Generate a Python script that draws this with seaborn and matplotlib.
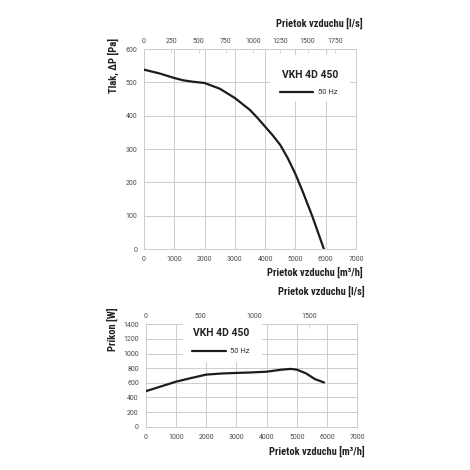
import matplotlib
matplotlib.use("Agg")
import matplotlib.pyplot as plt
import seaborn as sns
import pandas as pd
from matplotlib.patches import Rectangle

# tlak (Pa) vs prietok (m3/h)
tlak_prietok = [0, 500, 1000, 1300, 1600, 2000, 2500, 3000, 3500, 3750, 4000, 4250, 4500, 4750, 5000, 5250, 5550, 5940]
tlak_pa = [538, 527, 513, 506, 502, 498, 481, 453, 417, 393, 367, 341, 312, 272, 225, 170, 100, 0]

# prikon (W) vs prietok (m3/h)
prikon_prietok = [0, 500, 1000, 1500, 2000, 2500, 3000, 3500, 4000, 4500, 4800, 5000, 5300, 5600, 5900]
prikon_w = [485, 550, 615, 665, 712, 727, 735, 742, 752, 780, 790, 780, 730, 650, 605]

x_ticks = [0, 1000, 2000, 3000, 4000, 5000, 6000, 7000]
ls_ticks_top = [0, 250, 500, 750, 1000, 1250, 1500, 1750]
ls_ticks_bottom = [0, 500, 1000, 1500]
tlak_ticks = [0, 100, 200, 300, 400, 500, 600]
prikon_ticks = [0, 200, 400, 600, 800, 1000, 1200, 1400]

model = "VKH 4D 450"
freq = "50 Hz"

df_tlak = pd.DataFrame({"prietok": tlak_prietok, "hodnota": tlak_pa})
df_prikon = pd.DataFrame({"prietok": prikon_prietok, "hodnota": prikon_w})

sns.set_theme(style="whitegrid")
plt.rcParams["font.family"] = ["Roboto", "DejaVu Sans"]

title_font = ["Liberation Sans Narrow", "Roboto Condensed", "Roboto", "DejaVu Sans"]
grid_c = "#cccccc"
tick_c = "#4a4a4a"
line_c = "#1c1c1c"

fig = plt.figure(figsize=(4.7, 4.7), dpi=100)
W = H = 470.0


def px_axes(left, top, right, bottom):
    return fig.add_axes([left / W, 1 - bottom / H, (right - left) / W, (bottom - top) / H])


def styluj(ax, yticks, ls_ticks):
    ax.set_xlim(0, 7000)
    ax.set_ylim(yticks[0], yticks[-1])
    ax.set_xticks(x_ticks)
    ax.set_yticks(yticks)
    ax.grid(True, color=grid_c, linewidth=0.7)
    for s in ax.spines.values():
        s.set_color(grid_c)
        s.set_linewidth(0.7)
    ax.tick_params(axis="both", labelsize=5, colors=grid_c, labelcolor=tick_c,
                   length=2.5, width=0.6, direction="out", pad=2.5)
    ax.set_xlabel("")
    ax.set_ylabel("")
    sec = ax.secondary_xaxis("top", functions=(lambda v: v / 3.6, lambda v: v * 3.6))
    sec.set_xticks(ls_ticks)
    sec.tick_params(labelsize=5, colors=grid_c, labelcolor=tick_c,
                    length=3, width=0.6, direction="in", pad=3)
    sec.spines["top"].set_visible(False)
    return sec


# horny graf - tlak
ax1 = px_axes(144, 49, 356, 249)
sns.lineplot(data=df_tlak, x="prietok", y="hodnota", ax=ax1, color=line_c, linewidth=1.6, zorder=5)
styluj(ax1, tlak_ticks, ls_ticks_top)
ax1.add_patch(Rectangle((0.594, 0.74), 0.378, 0.23, transform=ax1.transAxes,
                        facecolor="white", edgecolor="none", zorder=3))
ax1.text(0.783, 0.87, model, transform=ax1.transAxes, ha="center", va="center",
         fontsize=7.5, fontweight="bold", color="#222222", zorder=6)
ax1.plot([0.642, 0.797], [0.787, 0.787], transform=ax1.transAxes, color=line_c, linewidth=1.6, zorder=6)
ax1.text(0.821, 0.787, freq, transform=ax1.transAxes, ha="left", va="center",
         fontsize=5.5, color="#333333", zorder=6)

# dolny graf - prikon
ax2 = px_axes(145.7, 324.3, 357.3, 426.7)
sns.lineplot(data=df_prikon, x="prietok", y="hodnota", ax=ax2, color=line_c, linewidth=1.6, zorder=5)
styluj(ax2, prikon_ticks, ls_ticks_bottom)
ax2.add_patch(Rectangle((0.176, 0.632), 0.374, 0.368, transform=ax2.transAxes,
                        facecolor="white", edgecolor="none", zorder=3))
ax2.text(0.359, 0.912, model, transform=ax2.transAxes, ha="center", va="center",
         fontsize=7.5, fontweight="bold", color="#222222", zorder=6)
ax2.plot([0.217, 0.378], [0.739, 0.739], transform=ax2.transAxes, color=line_c, linewidth=1.6, zorder=6)
ax2.text(0.398, 0.739, freq, transform=ax2.transAxes, ha="left", va="center",
         fontsize=5.5, color="#333333", zorder=6)

# popisy osi
kw = dict(fontsize=7.6, fontweight="bold", color="#222222", family=title_font)
fig.text(363 / W, 1 - 23 / H, "Prietok vzduchu [l/s]", ha="right", va="center", **kw)
fig.text(363 / W, 1 - 272.7 / H, "Prietok vzduchu [m³/h]", ha="right", va="center", **kw)
fig.text(365 / W, 1 - 291.7 / H, "Prietok vzduchu [l/s]", ha="right", va="center", **kw)
fig.text(365 / W, 1 - 451.7 / H, "Prietok vzduchu [m³/h]", ha="right", va="center", **kw)
fig.text(113 / W, 1 - 65 / H, "Tlak, ΔP [Pa]", ha="center", va="center", rotation=90, **kw)
fig.text(112 / W, 1 - 329.5 / H, "Príkon [W]", ha="center", va="center", rotation=90, **kw)

fig.savefig("out.png", dpi=100, facecolor="white")
